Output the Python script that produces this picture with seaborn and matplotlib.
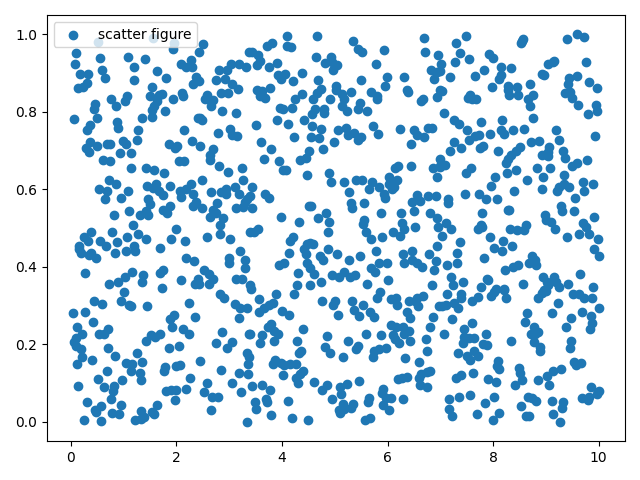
import matplotlib
matplotlib.use("Agg")
import matplotlib.pyplot as plt
import numpy as np
import seaborn as sns

# values, one x/y pair of lists per region of the plot
x_top_left = [0.52,1.56,1.95,1.94,2.51,2.42,3.38,0.10,0.07,0.56,1.09,1.40,1.20,1.64,2.08,2.27,2.19,2.29,0.59,0.65,1.19,0.17,0.33,0.30,0.23,0.13,1.81,1.53,1.49,1.72,1.66,1.64,1.57,1.53,1.54,1.79,1.93,2.10,2.12,0.76,1.07,1.02,0.86,0.46,0.44,0.06,0.50,0.36,0.31,0.88,0.90,1.35,1.28,1.25,0.37,0.28,0.35,0.50,0.68,0.75,0.98,1.04,0.93,1.14,1.85,2.01,1.97,2.15,2.29,2.44,2.40,2.45,2.48,2.78,2.87,3.13,3.01,3.05,3.14,2.69,2.63,2.57,2.54,2.59,2.70,2.65,2.85,2.97,3.16,2.75,2.31,2.37,2.42,2.80,2.92,2.95,3.03,3.19,3.32,3.05,0.61,0.74,2.04,2.15]
y_top_left = [0.980,0.991,0.978,0.963,0.976,0.954,0.954,0.953,0.924,0.940,0.942,0.937,0.917,0.906,0.924,0.935,0.916,0.916,0.909,0.888,0.883,0.899,0.897,0.874,0.864,0.862,0.888,0.865,0.841,0.847,0.843,0.827,0.814,0.806,0.787,0.801,0.832,0.850,0.840,0.834,0.840,0.827,0.816,0.821,0.807,0.781,0.783,0.767,0.752,0.773,0.759,0.785,0.752,0.728,0.723,0.707,0.697,0.713,0.718,0.718,0.724,0.716,0.695,0.695,0.716,0.711,0.707,0.754,0.724,0.713,0.785,0.785,0.778,0.746,0.801,0.798,0.755,0.741,0.738,0.703,0.690,0.843,0.832,0.832,0.830,0.815,0.850,0.850,0.860,0.883,0.873,0.890,0.880,0.909,0.886,0.907,0.924,0.924,0.917,0.873,0.675,0.673,0.673,0.673]

x_top_mid = [4.09,4.66,5.34,6.69,3.81,3.72,4.10,4.17,5.43,5.52,5.93,6.71,6.96,3.43,3.54,4.64,4.93,4.82,4.95,5.05,4.97,5.78,3.59,3.53,3.75,3.91,6.82,6.94,6.88,4.37,3.93,4.06,3.98,4.20,4.68,5.49,5.99,5.96,6.31,5.03,5.03,4.73,4.67,4.59,3.77,3.53,3.62,3.59,3.67,4.37,4.24,5.31,5.13,5.18,4.91,5.69,5.79,5.80,6.36,6.39,6.67,6.63,6.93,6.99,5.48,5.43,5.61,5.13,5.23,3.96,4.02,4.18,4.63,4.56,4.79,4.79,3.90,3.50,4.11,4.41,4.56,4.73,4.54,4.70,4.22,5.06,5.22,5.25,5.36,5.50,5.44,4.98,5.72,5.82,6.24,6.50,6.55,6.69,6.77,6.85,6.44,3.60,3.79,4.77,4.51,3.65,3.94,4.35,4.46]
y_top_mid = [0.996,0.996,0.984,0.991,0.977,0.970,0.971,0.967,0.963,0.954,0.960,0.955,0.948,0.955,0.948,0.942,0.941,0.927,0.929,0.922,0.909,0.924,0.931,0.920,0.916,0.927,0.907,0.903,0.886,0.901,0.894,0.897,0.886,0.880,0.883,0.883,0.889,0.867,0.891,0.868,0.856,0.860,0.849,0.834,0.862,0.856,0.853,0.840,0.837,0.845,0.832,0.852,0.845,0.834,0.832,0.852,0.841,0.833,0.857,0.852,0.832,0.828,0.839,0.856,0.824,0.807,0.803,0.816,0.801,0.811,0.808,0.809,0.808,0.795,0.808,0.798,0.780,0.767,0.770,0.778,0.763,0.755,0.736,0.733,0.734,0.754,0.759,0.741,0.746,0.735,0.728,0.723,0.764,0.744,0.757,0.752,0.741,0.734,0.759,0.759,0.716,0.721,0.705,0.703,0.700,0.679,0.673,0.675,0.682]

x_top_right = [7.49,7.29,8.57,8.55,8.52,9.39,9.58,9.72,7.37,7.02,7.27,7.54,7.92,7.99,9.13,9.04,9.16,9.76,8.14,8.33,7.82,7.65,7.18,7.00,8.15,8.12,8.92,8.97,9.58,9.44,9.42,8.70,9.82,9.97,7.97,8.28,8.46,8.28,8.30,8.47,8.76,8.66,8.70,7.03,7.57,7.52,7.60,7.68,9.37,9.46,9.50,9.61,9.95,9.96,9.80,7.06,7.25,7.35,7.50,7.77,8.16,8.75,8.14,8.20,8.37,8.58,7.94,7.73,7.66,7.54,9.19,9.93,9.25,8.87,8.71,9.06,9.04,7.25,7.39,7.18,7.76,7.80,8.09,8.51,8.44,8.33,8.28,8.92,9.03,9.32,9.36,9.78,6.99]
y_top_right = [0.996,0.978,0.989,0.983,0.978,0.989,1.000,0.994,0.953,0.924,0.929,0.937,0.950,0.939,0.930,0.923,0.931,0.929,0.915,0.912,0.909,0.893,0.891,0.905,0.894,0.886,0.899,0.896,0.893,0.888,0.873,0.873,0.876,0.862,0.865,0.866,0.865,0.856,0.844,0.844,0.844,0.832,0.816,0.855,0.843,0.835,0.832,0.832,0.850,0.852,0.837,0.819,0.819,0.801,0.795,0.797,0.778,0.768,0.754,0.775,0.780,0.783,0.752,0.744,0.752,0.757,0.744,0.741,0.738,0.728,0.754,0.739,0.728,0.726,0.721,0.710,0.697,0.721,0.708,0.698,0.708,0.711,0.700,0.710,0.700,0.688,0.679,0.688,0.686,0.700,0.682,0.675,0.679]

x_mid_left = [2.63,2.80,1.13,1.42,1.58,1.77,2.97,3.25,3.27,0.73,0.86,2.49,2.28,1.88,1.45,1.61,1.56,1.66,1.74,0.54,0.69,1.09,0.95,0.65,1.47,1.49,2.06,2.19,2.32,2.09,2.66,2.84,2.94,2.94,3.10,3.19,3.33,2.76,2.37,2.31,2.49,1.87,1.74,1.83,3.12,3.26,2.70,2.75,2.64,2.89,0.82,1.11,1.30,1.42,1.47,1.18,2.83,2.00,0.38,0.78,2.82,3.40,0.25,0.33,0.56,1.07,1.28,1.42,1.90,2.17,2.57,3.02,0.88,0.67,0.16,0.16,1.20,1.05,1.22,0.84,1.68,0.19,0.38,0.35,0.48,3.21,2.99,2.99,3.29,3.29,2.19,2.34,2.53,1.75,1.68,1.16,1.37,1.34,1.03,0.90,0.73,0.27,2.09,2.61,2.70,2.40,2.35,2.42,2.61,3.13,3.24,1.72]
y_mid_left = [0.677,0.660,0.654,0.656,0.651,0.641,0.646,0.654,0.623,0.625,0.615,0.623,0.615,0.610,0.610,0.615,0.604,0.596,0.586,0.600,0.596,0.597,0.579,0.574,0.574,0.562,0.596,0.602,0.589,0.581,0.594,0.594,0.602,0.589,0.605,0.589,0.576,0.564,0.568,0.558,0.553,0.558,0.546,0.540,0.553,0.555,0.548,0.538,0.530,0.527,0.533,0.543,0.533,0.543,0.533,0.509,0.507,0.499,0.491,0.491,0.484,0.491,0.476,0.468,0.468,0.478,0.484,0.471,0.473,0.466,0.478,0.473,0.463,0.453,0.454,0.445,0.453,0.442,0.442,0.437,0.450,0.435,0.437,0.430,0.422,0.440,0.424,0.409,0.417,0.396,0.422,0.414,0.393,0.393,0.383,0.388,0.378,0.360,0.375,0.362,0.357,0.383,0.365,0.381,0.370,0.368,0.355,0.357,0.355,0.370,0.368,0.345]

x_mid_mid = [4.01,4.08,4.47,4.89,4.93,5.17,5.40,5.51,5.70,5.65,5.84,6.03,6.20,6.14,6.45,6.86,6.94,6.99,6.18,6.10,6.03,6.12,6.08,5.93,5.95,3.44,5.27,3.40,3.67,3.75,3.30,3.44,6.55,6.47,6.62,6.76,6.91,4.51,4.55,5.30,5.32,5.55,4.83,4.68,4.89,4.87,3.98,4.32,5.87,6.25,6.50,6.80,6.93,5.55,5.53,5.59,5.68,5.89,6.27,6.31,6.10,6.24,6.52,6.96,3.46,3.54,4.20,4.15,4.53,4.59,4.48,4.41,4.87,4.13,4.45,5.04,4.72,4.77,5.27,5.48,5.78,6.94,6.29,6.46,6.79,4.03,3.94,4.47,4.53,6.31,6.47,6.56,6.65,6.92,6.88,5.84,5.98,5.68,5.76,4.30,4.60,5.17,4.94,5.08,5.29,5.38,4.74,5.61,6.01,4.28,4.53,6.84,3.39,3.41]
y_mid_mid = [0.651,0.651,0.638,0.643,0.620,0.620,0.625,0.623,0.618,0.602,0.605,0.633,0.661,0.654,0.661,0.654,0.633,0.658,0.625,0.620,0.615,0.605,0.600,0.589,0.579,0.607,0.594,0.584,0.589,0.579,0.568,0.551,0.585,0.568,0.570,0.584,0.584,0.558,0.558,0.564,0.553,0.566,0.540,0.525,0.515,0.491,0.530,0.517,0.538,0.538,0.543,0.540,0.527,0.521,0.510,0.491,0.473,0.476,0.512,0.499,0.491,0.481,0.502,0.504,0.491,0.497,0.476,0.468,0.462,0.460,0.460,0.446,0.445,0.437,0.432,0.432,0.427,0.419,0.419,0.427,0.440,0.453,0.432,0.440,0.432,0.411,0.404,0.409,0.396,0.409,0.419,0.409,0.401,0.414,0.393,0.409,0.411,0.396,0.386,0.383,0.381,0.388,0.378,0.373,0.373,0.380,0.362,0.357,0.365,0.352,0.352,0.352,0.352,0.342]

x_mid_right = [9.58,9.50,7.09,7.00,7.58,7.48,8.43,8.26,8.83,9.08,9.34,8.94,8.03,7.96,8.64,8.24,9.70,9.89,9.72,9.34,9.44,9.25,9.21,8.92,8.39,7.46,7.73,7.86,8.07,9.55,7.14,7.14,9.28,9.30,9.53,8.28,8.30,7.78,8.98,9.91,9.00,9.09,9.17,9.70,9.76,9.82,9.63,9.99,9.40,7.10,7.20,7.04,7.77,7.71,7.78,8.63,8.58,8.45,8.32,7.94,8.18,8.35,8.01,8.16,7.37,7.31,7.82,9.91,10.00,8.73,8.68,8.79,8.81,8.47,8.37,8.22,7.12,7.31,7.20,7.23,7.42,8.94,9.02,9.04,9.15,9.19,9.25,9.42,9.65,9.89,7.88,7.90,7.77,8.05,8.20,8.56,8.96]
y_mid_right = [0.669,0.661,0.664,0.661,0.654,0.643,0.649,0.643,0.656,0.654,0.638,0.631,0.631,0.610,0.623,0.669,0.618,0.615,0.597,0.613,0.607,0.607,0.597,0.602,0.597,0.589,0.587,0.576,0.576,0.579,0.576,0.566,0.556,0.543,0.543,0.548,0.546,0.538,0.533,0.530,0.520,0.515,0.497,0.512,0.502,0.484,0.484,0.473,0.478,0.512,0.497,0.481,0.507,0.499,0.502,0.507,0.494,0.494,0.497,0.476,0.468,0.455,0.450,0.440,0.463,0.435,0.424,0.445,0.427,0.427,0.411,0.417,0.404,0.404,0.401,0.391,0.406,0.409,0.375,0.352,0.360,0.375,0.360,0.352,0.375,0.360,0.347,0.357,0.381,0.347,0.370,0.365,0.347,0.342,0.344,0.355,0.340]

x_low_left = [1.01,0.44,0.59,0.95,1.11,1.14,1.45,2.23,2.82,2.91,3.10,3.21,3.33,0.04,0.27,0.42,0.12,1.96,1.88,1.92,2.36,3.18,0.71,0.54,0.63,0.21,0.10,0.06,0.10,0.19,0.21,0.12,0.40,2.13,2.23,2.87,3.37,1.51,1.69,1.60,1.43,0.71,0.84,1.85,2.04,2.74,3.06,2.95,1.26,1.05,1.16,1.35,2.45,3.33,3.37,3.35,1.79,1.77,2.00,2.06,2.85,3.18,3.35,1.13,1.30,0.69,1.32,0.52,0.97,2.25,2.57,3.06,0.14,0.63,0.82,0.80,0.76,1.81,1.90,2.00,2.19,2.53,2.68,2.78,3.23,1.98,0.31,0.57,0.46,0.48,0.94,1.64,0.78,0.92,1.32,1.54,1.58,2.66,0.25,0.57,1.22,1.32,1.39,3.33]
y_low_left = [0.335,0.313,0.303,0.313,0.301,0.298,0.298,0.308,0.329,0.319,0.303,0.295,0.295,0.280,0.283,0.259,0.246,0.277,0.265,0.246,0.270,0.267,0.239,0.228,0.226,0.226,0.216,0.205,0.195,0.187,0.167,0.149,0.159,0.241,0.226,0.231,0.226,0.223,0.226,0.218,0.208,0.190,0.169,0.190,0.195,0.203,0.205,0.190,0.177,0.151,0.149,0.154,0.156,0.177,0.167,0.149,0.141,0.131,0.143,0.146,0.133,0.125,0.123,0.131,0.125,0.131,0.107,0.110,0.107,0.112,0.100,0.100,0.092,0.089,0.092,0.079,0.058,0.079,0.083,0.082,0.084,0.076,0.063,0.063,0.076,0.056,0.051,0.040,0.030,0.025,0.043,0.043,0.022,0.020,0.027,0.025,0.020,0.030,0.004,0.003,0.004,0.007,0.012,0.000]

x_low_mid = [5.86,5.80,3.56,3.88,4.22,4.75,5.00,4.96,5.32,5.53,5.36,6.06,6.15,6.18,6.41,6.67,6.56,6.52,6.58,6.98,3.82,3.75,3.65,3.56,4.00,4.13,5.46,5.67,5.74,5.06,6.37,6.42,6.86,4.39,3.73,3.80,6.06,6.16,6.29,6.80,3.84,3.92,6.41,3.39,3.62,3.58,3.84,4.28,4.85,5.59,5.87,6.10,6.14,6.22,6.31,6.42,6.73,5.25,5.44,5.40,4.81,4.91,5.15,4.36,4.32,5.97,5.84,5.74,5.72,6.75,6.33,6.60,3.86,3.82,3.98,4.03,4.15,4.26,4.39,4.34,4.26,4.30,4.01,6.80,6.75,6.63,6.60,6.20,6.27,6.37,6.61,6.75,4.60,5.46,5.23,5.10,4.85,4.75,5.11,5.91,5.89,3.43,3.63,3.77,6.06,5.97,6.29,5.65,5.63,4.94,3.69,3.71,3.48,3.50,4.11,5.91,6.03,5.15,5.34,5.30,5.08,5.17,5.10,3.79,4.18,4.49,5.57,5.67]
y_low_mid = [0.336,0.319,0.316,0.329,0.329,0.313,0.313,0.301,0.313,0.301,0.290,0.316,0.319,0.301,0.311,0.324,0.319,0.311,0.298,0.298,0.308,0.301,0.295,0.283,0.285,0.275,0.272,0.283,0.270,0.275,0.283,0.267,0.270,0.241,0.246,0.252,0.249,0.246,0.246,0.244,0.234,0.226,0.234,0.226,0.223,0.203,0.208,0.210,0.221,0.228,0.223,0.223,0.213,0.203,0.228,0.210,0.213,0.208,0.195,0.187,0.192,0.179,0.167,0.182,0.177,0.190,0.187,0.182,0.167,0.182,0.164,0.154,0.161,0.149,0.151,0.146,0.149,0.149,0.131,0.123,0.112,0.100,0.120,0.131,0.128,0.123,0.112,0.110,0.112,0.115,0.094,0.089,0.102,0.105,0.097,0.089,0.094,0.082,0.071,0.084,0.074,0.092,0.094,0.082,0.061,0.061,0.058,0.061,0.051,0.058,0.058,0.051,0.051,0.033,0.053,0.043,0.030,0.045,0.045,0.035,0.030,0.033,0.022,0.017,0.009,0.004,0.004,0.009]

x_low_right = [7.12,7.40,7.40,7.25,7.03,7.10,7.33,7.71,7.59,8.01,7.96,8.20,8.24,9.00,8.92,8.85,9.51,9.63,9.72,9.87,9.22,9.11,10.00,9.68,9.85,9.47,8.64,8.60,9.87,9.38,9.84,7.22,7.59,7.44,7.06,8.77,8.85,8.71,8.79,7.86,7.44,7.54,7.63,7.42,8.34,7.80,7.89,8.77,8.89,8.89,9.47,9.46,7.33,7.63,7.50,7.71,7.56,8.09,8.07,8.11,9.53,9.57,9.66,8.49,8.51,9.28,9.13,9.02,7.61,7.40,7.29,7.90,8.05,8.54,8.41,8.85,9.06,9.85,10.00,9.97,9.82,9.68,9.80,7.56,7.35,7.16,8.01,7.84,8.66,8.73,8.81,8.52,9.11,9.32,9.30,7.16,7.22,7.69,8.11,7.99,8.62,8.68,9.13,9.27]
y_low_right = [0.329,0.329,0.319,0.308,0.298,0.301,0.295,0.323,0.313,0.334,0.326,0.341,0.321,0.337,0.332,0.321,0.329,0.329,0.319,0.321,0.306,0.280,0.293,0.283,0.272,0.267,0.280,0.257,0.254,0.244,0.239,0.265,0.254,0.239,0.228,0.246,0.231,0.226,0.226,0.226,0.218,0.216,0.216,0.203,0.210,0.200,0.198,0.205,0.192,0.182,0.208,0.190,0.179,0.182,0.169,0.169,0.159,0.156,0.143,0.136,0.154,0.146,0.152,0.138,0.125,0.136,0.131,0.118,0.125,0.120,0.112,0.110,0.102,0.107,0.094,0.107,0.094,0.089,0.079,0.071,0.063,0.061,0.056,0.069,0.063,0.058,0.063,0.048,0.063,0.061,0.053,0.040,0.053,0.051,0.035,0.033,0.015,0.020,0.022,0.004,0.015,0.015,0.020,0.000]

x_values = np.concatenate([x_top_left, x_top_mid, x_top_right, x_mid_left, x_mid_mid, x_mid_right, x_low_left, x_low_mid, x_low_right])
y_values = np.concatenate([y_top_left, y_top_mid, y_top_right, y_mid_left, y_mid_mid, y_mid_right, y_low_left, y_low_mid, y_low_right])

fig, ax = plt.subplots(figsize=(6.4, 4.8), dpi=100)

sns.scatterplot(
    x=x_values,
    y=y_values,
    s=36,
    color="#1f77b4",
    edgecolor="#1f77b4",
    linewidth=1.0,
    label="scatter figure",
    ax=ax,
)

ax.legend(loc="upper left")
plt.tight_layout()
plt.savefig("out.png", dpi=100)
